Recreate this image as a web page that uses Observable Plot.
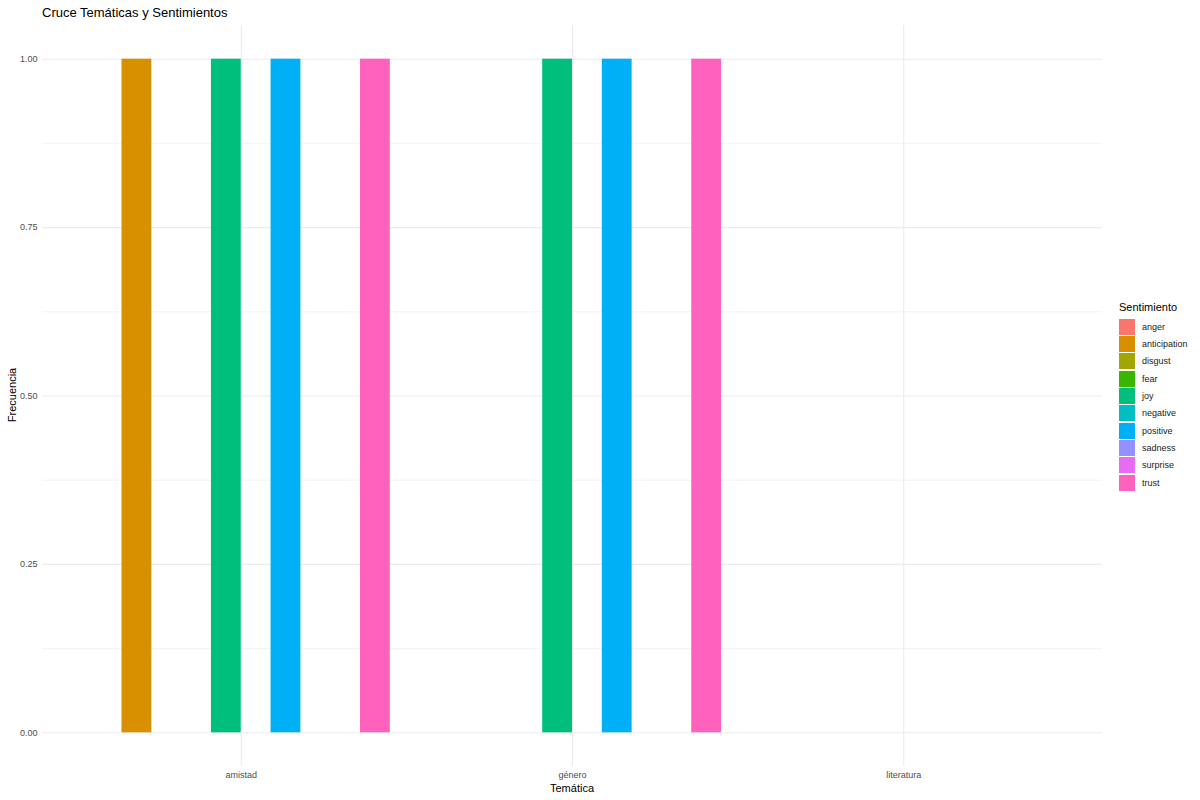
<!DOCTYPE html>
<html><head><meta charset="utf-8">
<script src="https://cdn.jsdelivr.net/npm/d3@7"></script>
<script src="https://cdn.jsdelivr.net/npm/@observablehq/plot@0.6"></script>
<style>
body{margin:0;background:#fff;font-family:"Liberation Sans",Arial,sans-serif;}
#wrap{position:relative;width:1200px;height:800px;overflow:hidden;}
#wrap svg{position:absolute;left:0;top:0;}
.t{position:absolute;white-space:nowrap;color:#000;}
#title{left:42px;top:5px;font-size:13px;}
#xlab{left:572px;top:782px;font-size:11px;transform:translateX(-50%);}
#ylab{left:12px;top:395px;font-size:11px;transform:translate(-50%,-50%) rotate(-90deg);}
#legend{position:absolute;left:1119px;top:301px;font-size:9px;color:#1a1a1a;}
#legend .lt{font-size:11px;color:#000;margin-bottom:5px;}
#legend .row{display:flex;align-items:center;height:17.35px;}
#legend .sw{width:16px;height:16px;margin-right:7px;}
</style></head><body><div id="wrap">
<div id="title" class="t">Cruce Temáticas y Sentimientos</div>
<div id="xlab" class="t">Temática</div>
<div id="ylab" class="t">Frecuencia</div>
<div id="legend"></div>
</div>
<script>
const tematicas = ["amistad", "género", "literatura"];
const sentimientos = ["anger","anticipation","disgust","fear","joy","negative","positive","sadness","surprise","trust"];
const colores = ["#F8766D","#D89000","#A3A500","#39B600","#00BF7D","#00BFC4","#00B0F6","#9590FF","#E76BF3","#FF62BC"];
const frecAmistad    = [0,1,0,0,1,0,1,0,0,1];
const frecGenero     = [0,0,0,0,1,0,1,0,0,1];
const frecLiteratura = [0,0,0,0,0,0,0,0,0,0];
const yTicks = [0, 0.25, 0.5, 0.75, 1];
const yMinor = [0.125, 0.375, 0.625, 0.875];

const frecs = [frecAmistad, frecGenero, frecLiteratura];
const nS = sentimientos.length;
const groupWidth = 0.9, slot = groupWidth / nS;
const rows = [];
tematicas.forEach((t, i) => {
  sentimientos.forEach((s, j) => {
    const x1 = (i + 1) - groupWidth / 2 + j * slot;
    rows.push({tematica: t, sentimiento: s, n: frecs[i][j], x1, x2: x1 + slot});
  });
});
const xPos = tematicas.map((t, i) => i + 1);

const chart = Plot.plot({
  width: 1200, height: 800,
  marginLeft: 42, marginRight: 98, marginTop: 25, marginBottom: 34,
  style: {fontFamily: '"Liberation Sans", Arial, sans-serif', fontSize: "9px", background: "transparent"},
  x: {type: "linear", domain: [0.4, 3.6]},
  y: {domain: [-0.05, 1.05]},
  color: {domain: sentimientos, range: colores},
  marks: [
    Plot.gridY(yMinor, {stroke: "#EBEBEB", strokeOpacity: 1, strokeWidth: 0.6}),
    Plot.gridY(yTicks, {stroke: "#EBEBEB", strokeOpacity: 1, strokeWidth: 1.1}),
    Plot.gridX(xPos, {stroke: "#EBEBEB", strokeOpacity: 1, strokeWidth: 1.1}),
    Plot.rectY(rows.filter(d => d.n > 0), {x1: "x1", x2: "x2", y1: 0, y2: "n", fill: "sentimiento"}),
    Plot.axisY(yTicks, {tickSize: 0, tickPadding: 5, tickFormat: d3.format(".2f"), fill: "#4D4D4D", label: null}),
    Plot.axisX(xPos, {tickSize: 0, tickPadding: 5, tickFormat: d => tematicas[d - 1], fill: "#4D4D4D", label: null})
  ]
});
document.getElementById("wrap").prepend(chart);

const leg = document.getElementById("legend");
leg.innerHTML = '<div class="lt">Sentimiento</div>' + sentimientos.map((s, i) =>
  `<div class="row"><div class="sw" style="background:${colores[i]}"></div><span>${s}</span></div>`).join("");
</script>
</body></html>
